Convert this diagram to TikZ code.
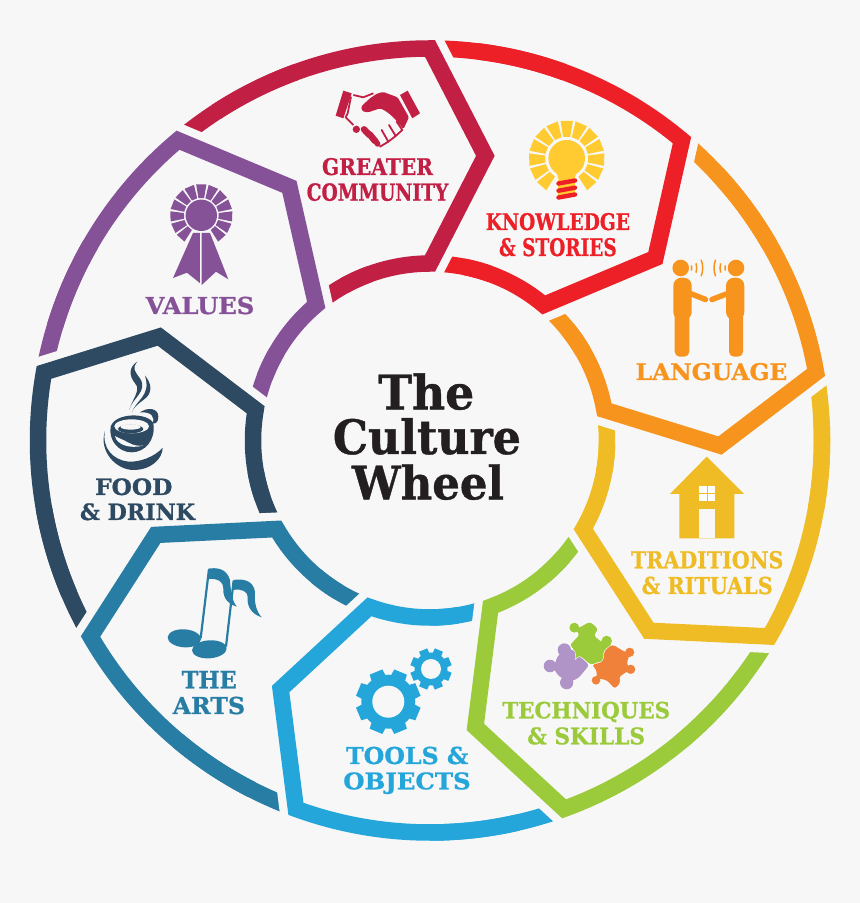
\documentclass[tikz,border=0pt]{standalone}
\usepackage{graphicx}
\usepackage{fontspec}
\setmainfont{DejaVu Serif}[BoldFeatures={FakeBold=0.9}]
\definecolor{bgc}{HTML}{F7F7F7}
\definecolor{ccomm}{HTML}{C21F45}
\definecolor{cknow}{HTML}{ED2027}
\definecolor{clang}{HTML}{F7941E}
\definecolor{ctrad}{HTML}{EFBC26}
\definecolor{ctech}{HTML}{9BCB3B}
\definecolor{ctool}{HTML}{25A6DB}
\definecolor{carts}{HTML}{287DA4}
\definecolor{cfood}{HTML}{2D4A62}
\definecolor{cvalu}{HTML}{855298}
\definecolor{cbulb}{HTML}{FFCB31}
\definecolor{ctitle}{HTML}{231F20}
\definecolor{cpurp}{HTML}{B094C8}
\definecolor{coran}{HTML}{F0813A}
\newcommand{\lbl}[7]{\node[anchor=base,inner sep=0pt,text=#7] (#1) at (#2,#3) {\resizebox{#4pt}{#5pt}{\bfseries #6}};}
\newcommand{\raysat}[6]{% cx cy r1 r2 halfangle colour
  \foreach \k in {-6,...,6}{
    \pgfmathsetmacro{\aa}{-90+\k*23}
    \fill[#6,shift={(#1,#2)}] (\aa-#5:#3) -- (\aa-#5:#4) -- (\aa+#5:#4) -- (\aa+#5:#3) -- cycle;
  }}
\newcommand{\geargl}[7]{% cx cy root tip hole colour halfangle
  \fill[#6] (#1,#2) circle (#3);
  \foreach \k in {0,...,7}{
    \pgfmathsetmacro{\aa}{22.5+\k*45}
    \fill[#6,shift={(#1,#2)}] (\aa-17:#3-1) -- (\aa-#7:#4) -- (\aa+#7:#4) -- (\aa+17:#3-1) -- cycle;
  }
  \fill[bgc] (#1,#2) circle (#5);}
\newcommand{\jigsaw}[2]{\draw[white,line width=1pt] #2; \fill[#1] #2;}
\tikzset{band/.style={line width=16.5pt,line join=miter,miter limit=10},
  halo/.style={line width=33pt,line join=miter,miter limit=10,bgc,shorten <=-40pt,shorten >=-40pt},
  wave/.style={line width=1.5pt,clang}}
\begin{document}
\begin{tikzpicture}[x=1pt,y=1pt]
\useasboundingbox (0,0) rectangle (860,903);
\fill[bgc] (0,0) rectangle (860,903);
% ---- wheel: arcs reaching under the neighbour, then the neighbour's clearance, then the bands
\foreach \i/\c in {0/ccomm,1/cknow,2/clang,3/ctrad,4/ctech,5/ctool,6/carts,7/cfood,8/cvalu}{
  \begin{scope}[shift={(430,462.5)},rotate=-40*\i]
    \draw[band,\c] (129.5:392) arc[start angle=129.5,end angle=110,radius=392pt];
    \draw[band,\c] (110:177) arc[start angle=110,end angle=128.5,radius=177pt];
  \end{scope}
}
\foreach \i in {0,...,8}{
  \begin{scope}[shift={(430,462.5)},rotate=-40*\i]
    \draw[halo] (90:392) -- (79:290) -- (90:177);
  \end{scope}
}
\foreach \i/\c in {0/ccomm,1/cknow,2/clang,3/ctrad,4/ctech,5/ctool,6/carts,7/cfood,8/cvalu}{
  \begin{scope}[shift={(430,462.5)},rotate=-40*\i]
    \draw[band,\c] (123:392) arc[start angle=123,end angle=90,radius=392pt]
      -- (79:290) -- (90:177) arc[start angle=90,end angle=119,radius=177pt];
  \end{scope}
}
\begin{scope}[shift={(0,903)},yscale=-1]
% ---- texts
\lbl{t1}{426.2}{409.3}{96}{36}{The}{ctitle}
\lbl{t2}{426.9}{454}{188}{36}{Culture}{ctitle}
\lbl{t3}{428}{499.3}{152}{35}{Wheel}{ctitle}
\lbl{a1}{377.5}{175}{111}{17}{GREATER}{ccomm}
\lbl{a2}{377.5}{200.7}{141.6}{17.5}{COMMUNITY}{ccomm}
\lbl{b1}{557.9}{230}{144.3}{17}{KNOWLEDGE}{cknow}
\lbl{b2}{557.9}{256}{117.7}{18}{\& STORIES}{cknow}
\lbl{c1}{711.5}{380}{151.6}{17}{LANGUAGE}{clang}
\lbl{d1}{707.2}{568.3}{152.3}{17.3}{TRADITIONS}{ctrad}
\lbl{d2}{707.2}{594}{131}{17.3}{\& RITUALS}{ctrad}
\lbl{e1}{586.2}{718.3}{167.7}{16.6}{TECHNIQUES}{ctech}
\lbl{e2}{586.2}{744.3}{117.7}{17}{\& SKILLS}{ctech}
\lbl{f1}{407.2}{764}{122.3}{17.3}{TOOLS \&}{ctool}
\lbl{f2}{407}{789.3}{127.4}{17}{OBJECTS}{ctool}
\lbl{g1}{209.2}{688.3}{55}{17.3}{THE}{carts}
\lbl{g2}{208.9}{714}{72.3}{17.3}{ARTS}{carts}
\lbl{h1}{133.7}{495}{77.3}{16.7}{FOOD}{cfood}
\lbl{h2}{137.5}{520}{115}{16.7}{\& DRINK}{cfood}
\lbl{i1}{200}{314}{108.6}{17.3}{VALUES}{cvalu}
% ---- handshake
\begin{scope}[shift={(325,80)},scale=0.3333]
  \fill[ccomm] (55,32) -- (80,40) -- (55,115) -- (32,107) -- cycle;
  \fill[ccomm] (248,32) -- (285,100) -- (262,115) -- (225,45) -- cycle;
  \fill[ccomm,rounded corners=1.5pt] (108,80) .. controls (130,60) and (145,42) .. (175,36)
     -- (218,52) -- (252,112) -- (235,148) .. controls (215,120) and (190,95) .. (165,85)
     -- (130,97) -- (112,94) -- cycle;
  \draw[ccomm,line width=1.8pt,line join=round] (85,45) -- (115,52) -- (145,40);
  \draw[ccomm,line width=1.8pt,line join=round] (78,50) -- (68,100) -- (62,112) -- (85,135);
  \fill[ccomm] (94,148) circle (11);
  \draw[ccomm,line width=6.5pt,line cap=round] (117,148) -- (133,165);
  \draw[ccomm,line width=6.5pt,line cap=round] (134,163) -- (150,183);
  \draw[ccomm,line width=5.5pt,line cap=round] (150,180) -- (158,192);
  \draw[ccomm,line width=1.8pt,line join=round,line cap=round] (165,200) -- (190,185) -- (170,150);
  \draw[ccomm,line width=1.8pt,line join=round,line cap=round] (190,185) -- (212,168) -- (192,135);
  \draw[ccomm,line width=1.8pt,line join=round,line cap=round] (212,168) -- (232,150) -- (215,125);
\end{scope}
% ---- bulb
\raysat{566.7}{158.3}{21.7}{38}{9.4}{cbulb}
\fill[cbulb] (566.7,158.3) circle (18.3);
\fill[cbulb] (556,170) -- (577,170) -- (574,181) -- (559,181) -- cycle;
\fill[cbulb] (558,180) rectangle (575,197);
\foreach \yy in {183.5,190.7,197.5}{
  \draw[cknow,line width=4.4pt,line cap=round] (558.5,\yy) -- (575,\yy-3);
}
% ---- people
\begin{scope}[clang]
  \fill (680.7,268) circle (8.3);
  \fill[rounded corners=8pt] (673.3,277.7) rectangle (691.7,320);
  \fill[rounded corners=5pt] (674.7,305) rectangle (689.3,356.7);
  \draw[line width=5.5pt,line cap=round] (689,293) -- (705.5,299.5);
  \fill (736,268) circle (8.3);
  \fill[rounded corners=8pt] (726,277.7) rectangle (744.3,320);
  \fill[rounded corners=5pt] (729,305) rectangle (743,356.7);
  \draw[line width=5.5pt,line cap=round] (729,293) -- (712,299.5);
\end{scope}
\foreach \r/\a in {11/14,16/17,22/22}{
  \draw[wave] (680.7,268) ++(-\a:\r) arc[start angle=-\a,end angle=\a,radius=\r pt];
  \draw[wave] (736,268) ++(180-\a:\r) arc[start angle=180-\a,end angle=180+\a,radius=\r pt];
}
% ---- house
\fill[ctrad] (706.7,456.7) -- (744,494) -- (734.3,494) -- (734.3,538.3) -- (679.3,538.3) -- (679.3,494) -- (670,494) -- cycle;
\fill[bgc] (699,509) rectangle (715,538.3);
\fill[white] (699,485.7) rectangle (715,501);
\draw[ctrad,line width=1pt] (707,485.7) -- (707,501) (699,493.3) -- (715,493.3);
% ---- puzzle
\begin{scope}[shift={(535,615)},scale=0.3333]
  \jigsaw{ctech}{[rounded corners=3pt] (103,92) -- (135,58) -- (120,45) -- (165,20) -- (190,42) -- (176,62) -- (205,85) -- (232,88) -- (205,108) -- (205,135) -- (168,150) -- (135,122) -- (110,130) -- (118,100) -- cycle (118,38) circle (15) (215,78) circle (16) (118,128) circle (15) (205,133) circle (15)}
  \jigsaw{cpurp}{[rounded corners=3pt] (68,122) -- (100,100) -- (122,110) -- (118,140) -- (132,122) -- (163,150) -- (130,190) -- (105,200) -- (72,185) -- (55,160) -- cycle (88,105) circle (20) (45,153) circle (19) (95,203) circle (20)}
  \jigsaw{coran}{[rounded corners=3pt] (170,150) -- (205,140) -- (208,108) -- (232,88) -- (268,110) -- (285,115) -- (275,145) -- (285,165) -- (260,180) -- (250,190) -- (258,200) -- (240,222) -- (215,195) -- (185,190) -- (185,165) -- cycle (284,112) circle (14) (287,163) circle (14) (183,196) circle (13)}
\end{scope}
% ---- gears
\geargl{388.3}{701.7}{27}{32.8}{16}{ctool}{12}
\geargl{431}{669}{16.5}{21}{10}{ctool}{12}
% ---- notes
\begin{scope}[shift={(70,510)},scale=0.3333]
  \fill[carts,rotate around={4:(343,385)}] (343,385) ellipse (50 and 27);
  \fill[carts,rotate around={-4:(418,418)}] (418,418) ellipse (52 and 27);
  \draw[carts,line width=2.2pt] (392,385) -- (417,178);
  \draw[carts,line width=2.2pt] (468,410) -- (491,212);
  \fill[carts] (415,176) .. controls (440,172) and (470,175) .. (480,210)
     .. controls (482,240) and (485,270) .. (500,290)
     .. controls (475,282) and (458,265) .. (460,235)
     .. controls (460,215) and (445,205) .. (415,207) -- cycle;
  \fill[carts] (490,210) .. controls (520,205) and (550,212) .. (555,245)
     .. controls (552,280) and (560,305) .. (575,322)
     .. controls (545,312) and (530,290) .. (533,260)
     .. controls (533,245) and (515,235) .. (490,240) -- cycle;
\end{scope}
% ---- cup
\begin{scope}[shift={(90,355)},scale=0.3333]
  \fill[cfood] (45,228) .. controls (25,290) and (80,345) .. (130,345)
     .. controls (185,345) and (218,310) .. (218,278)
     .. controls (195,305) and (150,322) .. (115,320)
     .. controls (70,315) and (35,280) .. (45,228) -- cycle;
  \fill[cfood] (62,215) .. controls (55,255) and (85,292) .. (125,292)
     .. controls (165,292) and (198,255) .. (190,205)
     .. controls (175,172) and (75,172) .. (62,215) -- cycle;
  \fill[bgc] (125,214) ellipse (52 and 21);
  \fill[cfood] (122,222) ellipse (38 and 13);
  \fill[bgc] (122,216) ellipse (30 and 8);
  \fill[bgc] (75,243) .. controls (80,270) and (120,282) .. (160,272)
     .. controls (130,275) and (115,262) .. (100,255)
     .. controls (90,250) and (82,248) .. (75,243) -- cycle;
  \fill[cfood] (150,172) .. controls (175,155) and (205,160) .. (205,185)
     .. controls (205,200) and (198,208) .. (188,205)
     .. controls (195,185) and (185,170) .. (150,172) -- cycle;
  \fill[cfood] (142,20) .. controls (118,35) and (115,60) .. (135,85)
     .. controls (155,105) and (125,135) .. (118,165)
     .. controls (125,130) and (175,110) .. (150,70)
     .. controls (135,50) and (125,40) .. (142,20) -- cycle;
  \fill[cfood] (165,62) .. controls (185,85) and (190,115) .. (160,135)
     .. controls (140,150) and (128,160) .. (125,175)
     .. controls (135,135) and (185,125) .. (165,62) -- cycle;
\end{scope}
% ---- rosette
\raysat{201.3}{215.3}{17.5}{31.3}{9.4}{cvalu}
\fill[cvalu] (201.3,215.3) circle (15.7);
\fill[cvalu] (193,233) -- (199.8,233) -- (199.8,283) -- (187,272.7) -- (173,278) -- cycle;
\fill[cvalu] (201.5,233) -- (210,233) -- (228.3,279.3) -- (216,271.7) -- (201.7,285) -- cycle;
\end{scope}
\end{tikzpicture}
\end{document}
